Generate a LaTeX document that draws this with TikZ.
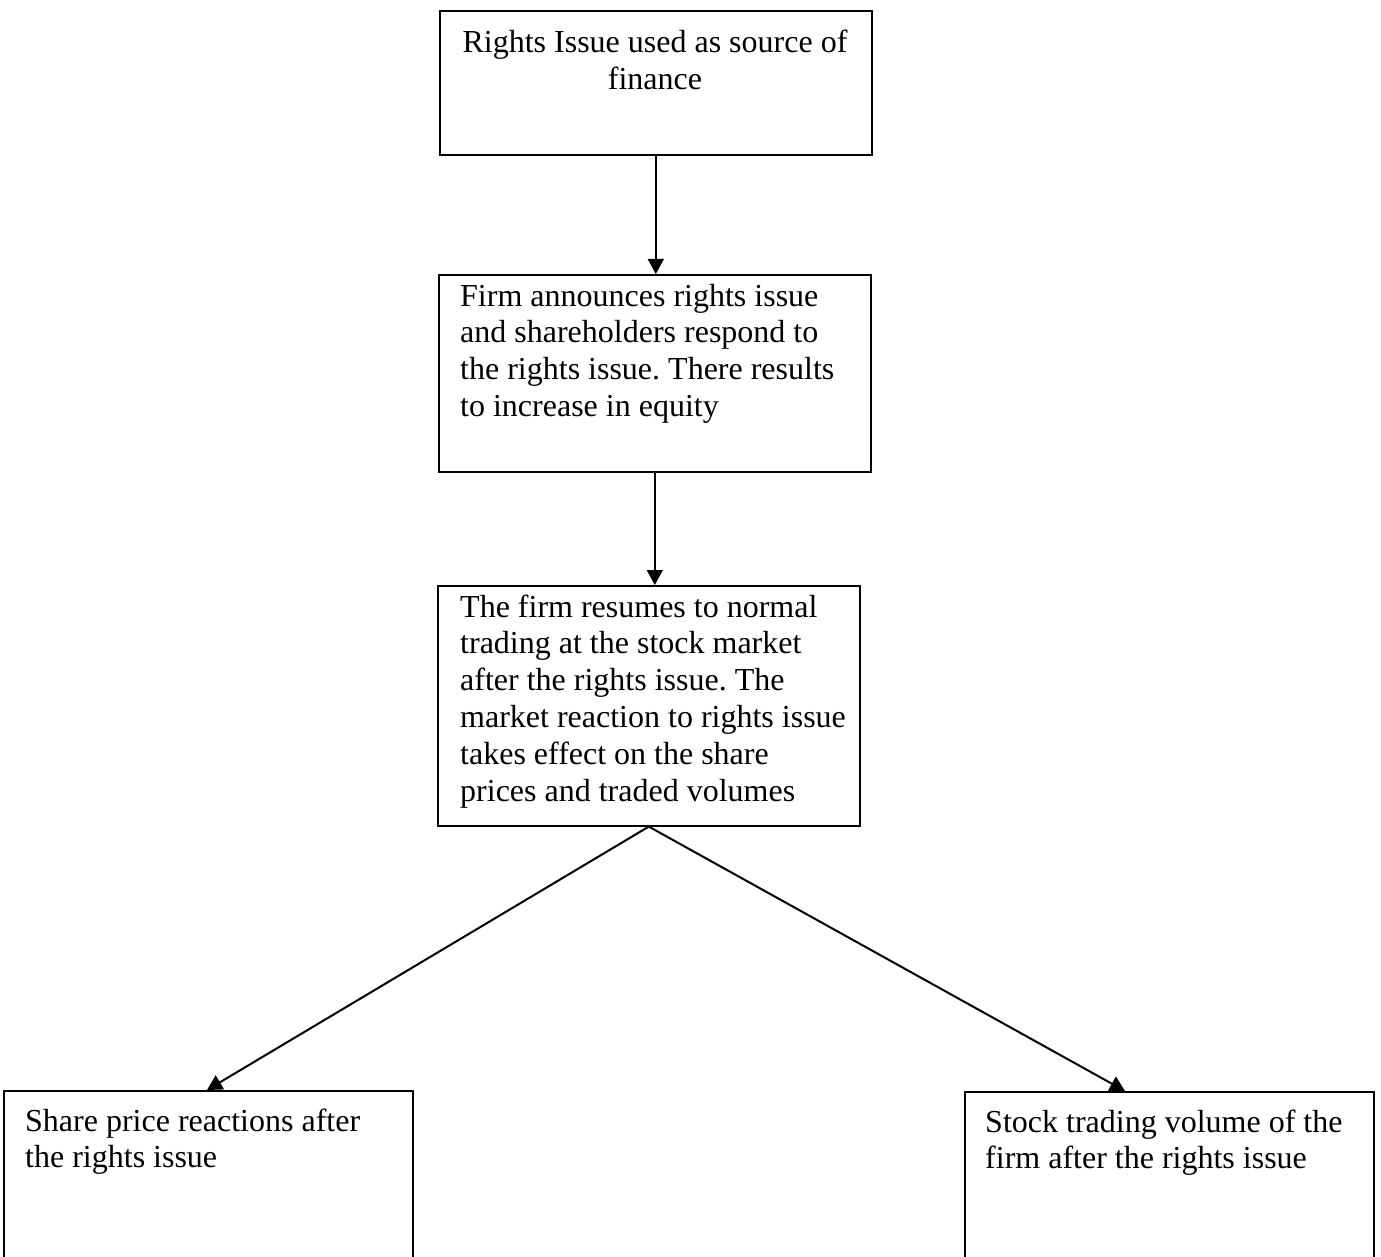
\documentclass[tikz,border=0pt]{standalone}
\usepackage{fontspec}
\setmainfont{Liberation Serif}
\usetikzlibrary{arrows.meta}
\frenchspacing
\begin{document}
\begin{tikzpicture}[x=1pt,y=-1pt,
  box/.style={draw, line width=1.6pt, inner sep=0pt, anchor=north west},
  txt/.style={inner sep=0pt, anchor=base west, font=\fontsize{32}{36.8}\selectfont},
  arr/.style={line width=1.4pt, -{Triangle[length=15pt,width=16pt]}},
  darr/.style={line width=2pt, -{Triangle[length=15pt,width=16pt]}}]
\useasboundingbox[fill=white] (0,0) rectangle (1381,1257);
% boxes
\node[box, minimum width=432pt, minimum height=144pt] (b1) at (439,10) {};
\node[box, minimum width=432pt, minimum height=197pt] (b2) at (438,274) {};
\node[box, minimum width=422pt, minimum height=240pt] (b3) at (437,585) {};
\node[box, minimum width=409pt, minimum height=180pt] (b4) at (3,1090) {};
\node[box, minimum width=409pt, minimum height=180pt] (b5) at (964,1091) {};
% texts
\node[txt, anchor=base] (t1) at (655,53) {\parbox[t]{420pt}{\centering Rights Issue used as source of\\ finance}};
\node[txt] (t2) at (460,306) {\parbox[t]{400pt}{\raggedright Firm announces rights issue\\ and shareholders respond to\\ the rights issue. There results\\ to increase in equity}};
\node[txt] (t3) at (460,617) {\parbox[t]{400pt}{\raggedright The firm resumes to normal\\ trading at the stock market\\ after the rights issue. The\\ market reaction to rights issue\\ takes effect on the share\\ prices and traded volumes}};
\node[txt] (t4) at (25,1131) {\parbox[t]{385pt}{\raggedright Share price reactions after\\ the rights issue}};
\node[txt] (t5) at (985,1132) {\parbox[t]{385pt}{\raggedright Stock trading volume of the\\ firm after the rights issue}};
% connectors
\coordinate (e4) at ([xshift=204pt]b4.north west);
\coordinate (e5) at ([xshift=161pt]b5.north west);
\draw[arr] (b1.south) -- (b1.south |- b2.north);
\draw[arr] (b2.south) -- (b2.south |- b3.north);
\draw[darr] (b3.south) -- (e4);
\draw[darr] (b3.south) -- (e5);
\end{tikzpicture}
\end{document}
